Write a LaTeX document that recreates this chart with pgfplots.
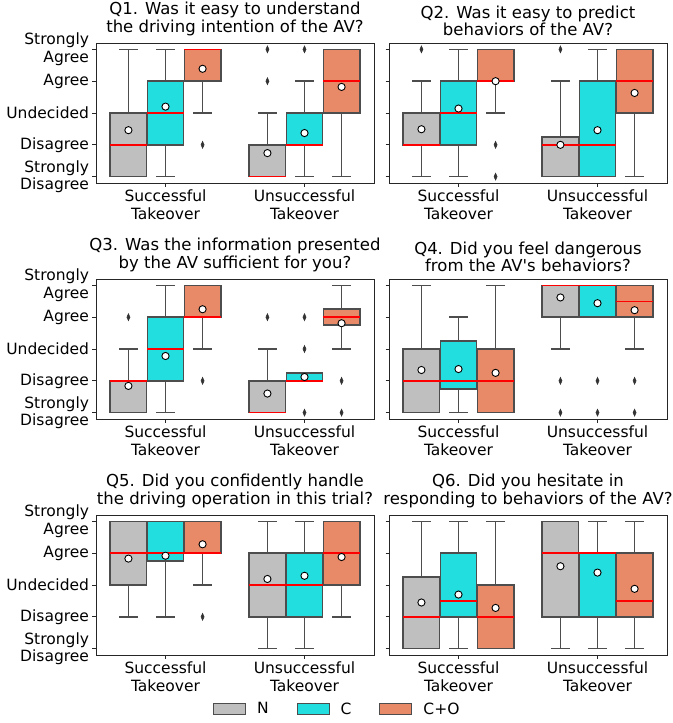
\documentclass[border=0pt]{standalone}
\usepackage{fontspec}
\setmainfont{DejaVu Sans}[Ligatures=TeXOff]
\usepackage{pgfplots}
\pgfplotsset{compat=1.18}
\usepgfplotslibrary{statistics}
\definecolor{cN}{HTML}{BFBFBF}
\definecolor{cC}{HTML}{22DEDE}
\definecolor{cO}{HTML}{E88A67}
\definecolor{cE}{HTML}{4D4D4D}
\definecolor{cF}{HTML}{333333}
\newcommand{\tf}{\fontsize{15.5bp}{17.5bp}\selectfont}
\newcommand{\ttl}{\fontsize{16.5bp}{17.5bp}\selectfont}
\pgfplotsset{
  qax/.style={
    scale only axis, width=278bp, height=140bp, anchor=south west,
    xmin=-0.5, xmax=1.5, ymin=0.8, ymax=5.2,
    xtick={0,1}, xticklabels={{Successful\\Takeover},{Unsuccessful\\Takeover}},
    ytick={1,2,3,4,5},
    tick align=outside, tick pos=left, major tick length=3.5bp,
    axis line style={line width=1bp, color=black!85},
    every tick/.style={line width=1bp, color=black!85},
    xticklabel style={align=center, font=\tf},
    yticklabel style={align=right, font=\tf},
    title style={align=center, font=\ttl, inner sep=1bp, yshift=0bp},
    boxplot/draw direction=y,
    boxplot/every median/.style={draw=red, line width=1.5bp},
  },
  lft/.style={yticklabels={{Strongly\\Disagree},Disagree,Undecided,Agree,{Strongly\\Agree}}},
  rgt/.style={yticklabels={}},
  lgrect/.style={legend image code/.code={\draw[##1] (0bp,-5.5bp) rectangle (32bp,5.5bp);}},
}
\newcommand{\bx}[8]{\addplot[draw=cE, line width=1.5bp, fill=#2, mark=diamond*, mark size=3.5bp,
  mark options={draw=cF, fill=cF, xscale=0.6, line width=0.5bp},
  boxplot prepared={draw position=#1, box extend=0.262, whisker extend=0.131,
  lower whisker=#3, lower quartile=#4, median=#5, upper quartile=#6, upper whisker=#7}] coordinates {#8};
  \addplot[only marks, mark=-, mark size=18bp, mark options={draw=red, line width=1.5bp}] coordinates {(#1,#5)};}
\newcommand{\mn}[1]{\addplot[only marks, mark=*, mark size=3.6bp, mark options={fill=white, draw=black, line width=0.9bp}] coordinates {#1};}
\begin{document}
\begin{tikzpicture}
\path[use as bounding box] (0,0) rectangle (673bp,-723bp);
% Q1
\begin{axis}[qax, lft, at={(96bp,-183bp)}, title={Q1. Was it easy to understand\\the driving intention of the AV?}]
\bx{-0.2667}{cN}{1}{1}{2}{3}{5}{}
\bx{0}{cC}{1}{2}{3}{4}{5}{}
\bx{0.2667}{cO}{3}{4}{5}{5}{5}{(0,2)}
\bx{0.7333}{cN}{1}{1}{1}{2}{3}{(0,4) (0,5)}
\bx{1}{cC}{1}{2}{2}{3}{4}{(0,5)}
\bx{1.2667}{cO}{1}{3}{4}{5}{5}{}
\mn{(-0.2667,2.46) (0,3.2) (0.2667,4.39) (0.7333,1.74) (1,2.37) (1.2667,3.82)}
\end{axis}
% Q2
\begin{axis}[qax, rgt, at={(389bp,-183bp)}, title={Q2. Was it easy to predict\\behaviors of the AV?}]
\bx{-0.2667}{cN}{1}{2}{2}{3}{4}{(0,5)}
\bx{0}{cC}{1}{2}{3}{4}{5}{}
\bx{0.2667}{cO}{3}{4}{4}{5}{5}{(0,2) (0,1)}
\bx{0.7333}{cN}{1}{1}{2}{2.25}{4}{(0,5)}
\bx{1}{cC}{1}{1}{2}{4}{5}{}
\bx{1.2667}{cO}{1}{3}{4}{5}{5}{}
\mn{(-0.2667,2.49) (0,3.14) (0.2667,4.0) (0.7333,2.0) (1,2.46) (1.2667,3.63)}
\end{axis}
% Q3
\begin{axis}[qax, lft, at={(96bp,-419bp)}, title={Q3. Was the information presented\\by the AV sufficient for you?}]
\bx{-0.2667}{cN}{1}{1}{2}{2}{3}{(0,4)}
\bx{0}{cC}{1}{2}{3}{4}{5}{}
\bx{0.2667}{cO}{3}{4}{4}{5}{5}{(0,2)}
\bx{0.7333}{cN}{1}{1}{1}{2}{3}{(0,4)}
\bx{1}{cC}{2}{2}{2}{2.25}{2.25}{(0,4) (0,3) (0,1)}
\bx{1.2667}{cO}{3}{3.75}{4}{4.25}{5}{(0,2) (0,1)}
\mn{(-0.2667,1.84) (0,2.78) (0.2667,4.25) (0.7333,1.60) (1,2.12) (1.2667,3.81)}
\end{axis}
% Q4
\begin{axis}[qax, rgt, at={(389bp,-419bp)}, title={Q4. Did you feel dangerous\\from the AV's behaviors?}]
\bx{-0.2667}{cN}{1}{1}{2}{3}{5}{}
\bx{0}{cC}{1}{1.75}{2}{3.25}{4}{}
\bx{0.2667}{cO}{1}{1}{2}{3}{5}{}
\bx{0.7333}{cN}{3}{4}{5}{5}{5}{(0,2) (0,1)}
\bx{1}{cC}{4}{4}{5}{5}{5}{(0,2) (0,1)}
\bx{1.2667}{cO}{3}{4}{4.5}{5}{5}{(0,2) (0,1)}
\mn{(-0.2667,2.34) (0,2.37) (0.2667,2.25) (0.7333,4.62) (1,4.44) (1.2667,4.22)}
\end{axis}
% Q5
\begin{axis}[qax, lft, at={(96bp,-655bp)}, title={Q5. Did you confidently handle\\the driving operation in this trial?},
  legend style={at={(0.868,-0.386)}, anchor=center, draw=none, font=\tf, legend columns=3,
    /tikz/every odd column/.append style={column sep=9bp},
    /tikz/every even column/.append style={column sep=26bp}},
  legend entries={N,C,C+O}]
\addlegendimage{lgrect, fill=cN, draw=cE, line width=1bp}
\addlegendimage{lgrect, fill=cC, draw=cE, line width=1bp}
\addlegendimage{lgrect, fill=cO, draw=cE, line width=1bp}
\bx{-0.2667}{cN}{2}{3}{4}{5}{5}{}
\bx{0}{cC}{2}{3.75}{4}{5}{5}{}
\bx{0.2667}{cO}{3}{4}{4}{5}{5}{(0,2)}
\bx{0.7333}{cN}{1}{2}{3}{4}{5}{}
\bx{1}{cC}{1}{2}{3}{4}{5}{}
\bx{1.2667}{cO}{2}{3}{4}{5}{5}{}
\mn{(-0.2667,3.83) (0,3.92) (0.2667,4.28) (0.7333,3.19) (1,3.29) (1.2667,3.88)}
\end{axis}
% Q6
\begin{axis}[qax, rgt, at={(389bp,-655bp)}, title={Q6. Did you hesitate in\\responding to behaviors of the AV?}]
\bx{-0.2667}{cN}{1}{1}{2}{3.25}{5}{}
\bx{0}{cC}{1}{2}{2.5}{4}{5}{}
\bx{0.2667}{cO}{1}{1}{2}{3}{5}{}
\bx{0.7333}{cN}{1}{2}{4}{5}{5}{}
\bx{1}{cC}{1}{2}{4}{4}{5}{}
\bx{1.2667}{cO}{1}{2}{2.5}{4}{5}{}
\mn{(-0.2667,2.45) (0,2.70) (0.2667,2.28) (0.7333,3.59) (1,3.39) (1.2667,2.88)}
\end{axis}
\end{tikzpicture}
\end{document}
